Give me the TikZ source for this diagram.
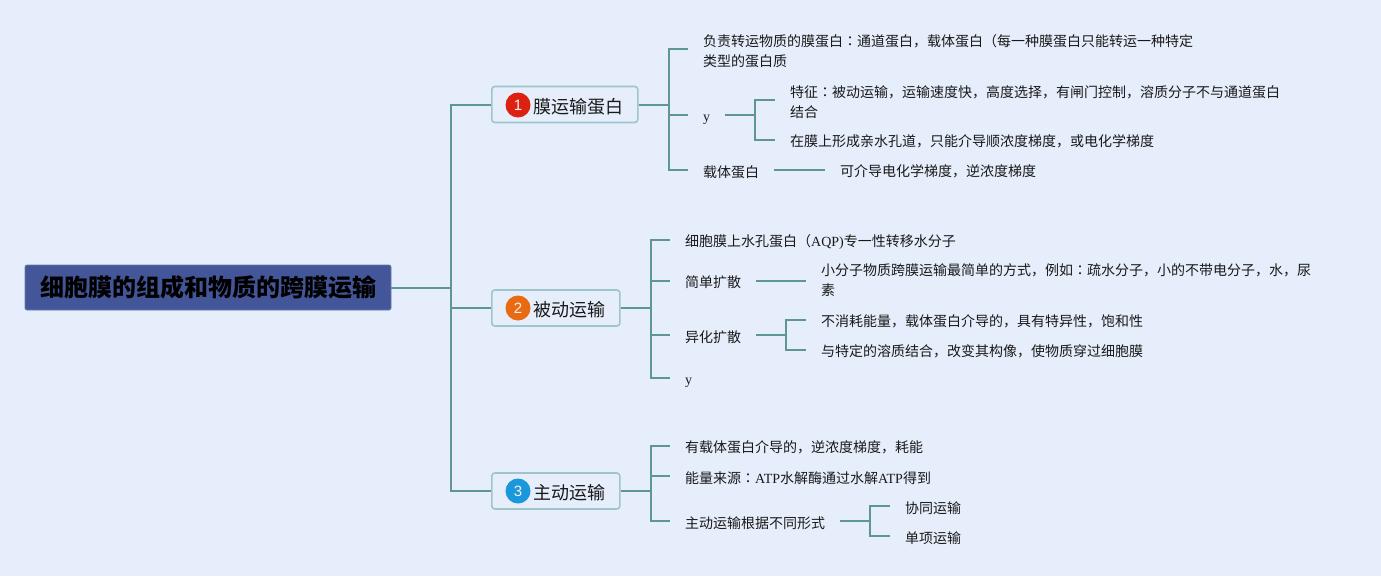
\documentclass[tikz,border=0pt]{standalone}
\usepackage{fontspec}
\setmainfont{Liberation Serif}
\newfontfamily\cjk{Noto Sans CJK SC}
\newfontfamily\cjktc{Noto Sans CJK TC}
\newfontfamily\latn{Liberation Serif}
\newfontfamily\numf{Liberation Sans}
\newcommand{\lat}[1]{{\latn #1}}
\newcommand{\mcolon}{{\cjktc ：}}
\definecolor{bgc}{HTML}{E6EEFC}
\definecolor{linkc}{HTML}{5E9692}
\definecolor{rootc}{HTML}{44569A}
\definecolor{edgec}{HTML}{9EC5CC}
\definecolor{badgea}{HTML}{DC2110}
\definecolor{badgeb}{HTML}{E86A12}
\definecolor{badgec}{HTML}{1B98DC}
\begin{document}
\begin{tikzpicture}[x=1pt, y=-1pt,
          link/.style={draw=linkc, line width=2pt},
          rootbox/.style={rectangle, rounded corners=2pt, fill=rootc, draw=rootc!80!white, line width=0.8pt, minimum width=366pt, minimum height=45pt, inner sep=0pt, font=\cjk\bfseries\fontsize{24}{28}\selectfont, text=black},
          branch/.style={rectangle, rounded corners=3pt, fill=bgc, draw=edgec, line width=1.6pt, minimum height=36pt, inner xsep=14.75pt, inner ysep=0pt, anchor=west, font=\cjk\fontsize{18}{22}\selectfont, text=black!90, execute at begin node={\rule{0pt}{18.8pt}}},
          badge/.style={circle, inner sep=0pt, minimum size=25pt, text=white!90!gray, font=\numf\fontsize{15}{15}\selectfont},
          leaf/.style={anchor=west, inner xsep=15pt, inner ysep=2pt, align=left, font=\cjk\fontsize{14}{20}\selectfont, text=black!90, execute at begin node={\rule{0pt}{15.3pt}}},
          leaftwo/.style={leaf, execute at begin node={\rule{0pt}{36pt}}}]
        \fill[bgc] (0,0) rectangle (1381,576);
        \useasboundingbox (0,0) rectangle (1381,576);
        \node[rootbox] (root) at (208,287.5) {细胞膜的组成和物质的跨膜运输};
        % three branches
        \node[branch] (mem) at (491,104.5) {\hspace{26.5pt}膜运输蛋白};
        \node[badge, fill=badgea] (mem1) at (518,105) {1};
        \node[branch] (pas) at (491,308) {\hspace{26.5pt}被动运输};
        \node[badge, fill=badgeb] (pas1) at (518,308) {2};
        \node[branch] (act) at (491,491) {\hspace{26.5pt}主动运输};
        \node[badge, fill=badgec] (act1) at (518,491) {3};
        \draw[link] (root.east) -- ++(60,0) |- (mem.west);
        \draw[link] (root.east) -- ++(60,0) |- (pas.west);
        \draw[link] (root.east) -- ++(60,0) |- (act.west);
        % first branch
        \node[leaftwo] (carrier) at (688,49) {负责转运物质的膜蛋白\mcolon 通道蛋白，载体蛋白（每一种膜蛋白只能转运一种特定\\类型的蛋白质};
        \node[leaf] (memy) at (688,115) {\lat{y}};
        \node[leaftwo] (feat) at (775,100) {特征\mcolon 被动运输，运输速度快，高度选择，有闸门控制，溶质分子不与通道蛋白\\结合};
        \node[leaf] (pore) at (775,140) {在膜上形成亲水孔道，只能介导顺浓度梯度，或电化学梯度};
        \node[leaf] (memc) at (688,170) {载体蛋白};
        \node[leaf] (grad) at (825,170) {可介导电化学梯度，逆浓度梯度};
        \draw[link] (mem.east) -- ++(30,0) |- (carrier.west);
        \draw[link] (mem.east) -- ++(30,0) |- (memy.west);
        \draw[link] (mem.east) -- ++(30,0) |- (memc.west);
        \draw[link] (memy.east) -- ++(30,0) |- (feat.west);
        \draw[link] (memy.east) -- ++(30,0) |- (pore.west);
        \draw[link] (memc.east) -- (grad.west);
        % second branch
        \node[leaf] (aqp) at (670,240) {细胞膜上水孔蛋白（\lat{AQP)}专一性转移水分子};
        \node[leaf] (simp) at (670,280.5) {简单扩散};
        \node[leaf] (small) at (806,280.5) {小分子物质跨膜运输最简单的方式，例如\mcolon 疏水分子，小的不带电分子，水，尿\\素};
        \node[leaf] (facil) at (670,335) {异化扩散};
        \node[leaf] (noen) at (806,320) {不消耗能量，载体蛋白介导的，具有特异性，饱和性};
        \node[leaf] (bind) at (806,350) {与特定的溶质结合，改变其构像，使物质穿过细胞膜};
        \node[leaf] (pasy) at (670,378) {\lat{y}};
        \draw[link] (pas.east) -- ++(30,0) |- (aqp.west);
        \draw[link] (pas.east) -- ++(30,0) |- (simp.west);
        \draw[link] (pas.east) -- ++(30,0) |- (facil.west);
        \draw[link] (pas.east) -- ++(30,0) |- (pasy.west);
        \draw[link] (simp.east) -- (small.west);
        \draw[link] (facil.east) -- ++(30,0) |- (noen.west);
        \draw[link] (facil.east) -- ++(30,0) |- (bind.west);
        % third branch
        \node[leaf] (cons) at (670,446) {有载体蛋白介导的，逆浓度梯度，耗能};
        \node[leaf] (atp) at (670,476) {能量来源\mcolon \lat{ATP}水解酶通过水解\lat{ATP}得到};
        \node[leaf] (form) at (670,521) {主动运输根据不同形式};
        \node[leaf] (sym) at (890,506) {协同运输};
        \node[leaf] (uni) at (890,536) {单项运输};
        \draw[link] (act.east) -- ++(30,0) |- (cons.west);
        \draw[link] (act.east) -- ++(30,0) |- (atp.west);
        \draw[link] (act.east) -- ++(30,0) |- (form.west);
        \draw[link] (form.east) -- ++(30,0) |- (sym.west);
        \draw[link] (form.east) -- ++(30,0) |- (uni.west);
      \end{tikzpicture}
\end{document}
